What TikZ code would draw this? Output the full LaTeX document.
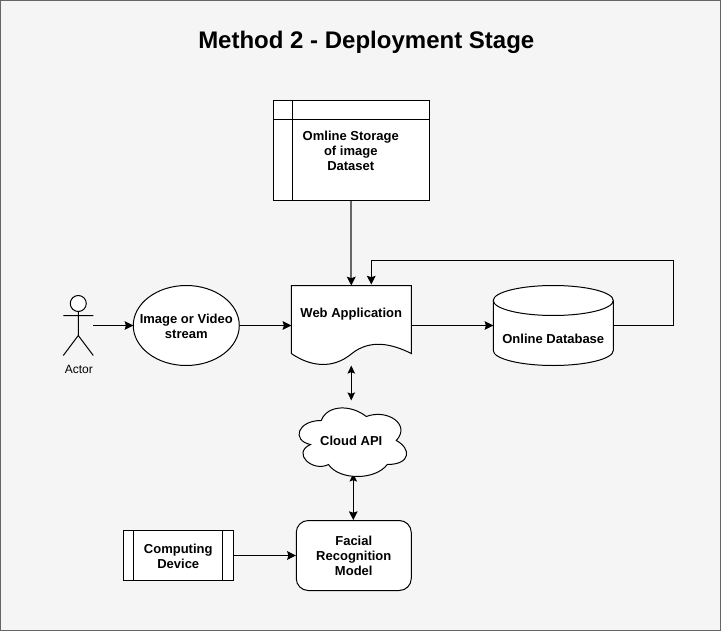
\documentclass[tikz,border=0pt]{standalone}
\usepackage{fontspec}
\setmainfont{Liberation Sans}
\usetikzlibrary{arrows.meta,calc}
\definecolor{bgc}{HTML}{F5F5F5}
\definecolor{framec}{HTML}{666666}
\tikzset{
  px/.style={x=0.75pt,y=-0.75pt},
  shapeline/.style={draw=black,fill=white,line width=0.75pt},
  boxtext/.style={inner sep=0pt,align=center,font=\fontsize{9.75pt}{11.25pt}\selectfont\bfseries},
  holder/.style={inner sep=0pt,outer sep=0pt,draw=none},
  flow/.style={draw=black,line width=0.75pt,-{Stealth[length=6.5pt,width=6.5pt,inset=1pt]}},
  flowgray/.style={draw=framec,line width=1.3pt,-{Stealth[length=6.5pt,width=6.5pt,inset=1pt,color=black,fill=black]}},
  both/.style={draw=black,line width=0.75pt,{Stealth[length=6pt,width=5.5pt,inset=1pt]}-{Stealth[length=6.5pt,width=6.5pt,inset=1pt]}},
  bothheavy/.style={draw=black,line width=1.1pt,{Stealth[length=6pt,width=5.5pt,inset=1pt]}-{Stealth[length=6pt,width=5.5pt,inset=1pt]}},
}
\begin{document}
\begin{tikzpicture}[px]
\useasboundingbox (0,0) rectangle (721,631);
\draw[draw=framec,fill=bgc,line width=1pt] (0.6,0.6) rectangle (720.4,630.4);
\begin{scope}[yshift=-0.375pt,xshift=0.2pt]
\node[holder,font=\fontsize{18pt}{20pt}\selectfont\bfseries] (title) at (366,41.5) {Method 2 - Deployment Stage};

% internal storage
\node[shapeline,minimum width=117pt,minimum height=75pt,inner sep=0pt] (storage) at (351,150) {};
\draw[line width=0.75pt] (storage.north west) ++(19.5,0) coordinate (stv) -- (stv |- storage.south);
\draw[line width=0.75pt] (storage.north west) ++(0,20) coordinate (sth) -- (sth -| storage.east);
\node[boxtext] (storagetext) at (350.5,150) {Omline Storage\\of image\\Dataset};

% actor
\node[holder,circle,minimum size=12pt,shapeline] (head) at (78,303) {};
\coordinate (neck) at (78,311);
\coordinate (hip) at (78,335);
\coordinate (armL) at (63,315);
\coordinate (armR) at (93,315);
\coordinate (footL) at (63,355);
\coordinate (footR) at (93,355);
\draw[line width=0.75pt] (neck) -- (hip) (armL) -- (armR) (footL) -- (hip) -- (footR);
\node[holder,font=\fontsize{9pt}{11pt}\selectfont] (actorlabel) at (78.5,369) {Actor};
\coordinate (actorout) at (93,325);

% image ellipse
\draw[shapeline] (186,325) ellipse (53 and 40);
\node[holder,minimum width=79.5pt,minimum height=60pt] (stream) at (186,325) {};
\node[boxtext] (streamtext) at (186,326) {Image or Video\\stream};

% web application (document)
\node[holder,minimum width=90pt,minimum height=60pt] (web) at (351,325) {};
\draw[shapeline] (291,285) -- (411,285) -- (411,353)
  .. controls (392,343.5) and (370,338) .. (351,353.5)
  .. controls (332,369) and (310,366) .. (291,353) -- cycle;
\node[boxtext] (webtext) at (351,314) {Web Application};

% database
\node[holder,minimum width=90pt,minimum height=60pt] (db) at (553,325) {};
\draw[shapeline] (493,300) -- (493,350) arc[start angle=180,end angle=0,x radius=60,y radius=15] -- (613,300);
\draw[shapeline] (553,300) ellipse (60 and 15);
\node[boxtext] (dbtext) at (553,338) {Online Database};

% computing device
\node[shapeline,minimum width=82.5pt,minimum height=37.5pt,inner sep=0pt] (device) at (178,555) {};
\draw[line width=0.75pt] (device.north west) ++(11,0) coordinate (dvl) -- (dvl |- device.south);
\draw[line width=0.75pt] (device.north east) ++(-11,0) coordinate (dvr) -- (dvr |- device.south);
\node[boxtext] (devicetext) at (178,556) {Computing\\Device};

% model
\node[shapeline,rounded corners=9pt,minimum width=86.25pt,minimum height=52.5pt,inner sep=0pt] (model) at (353.5,555) {};
\node[boxtext] (modeltext) at (353.5,555) {Facial\\Recognition\\Model};

% connector whose upper head lies behind the cloud
\coordinate (cloudbase) at (353,473);
\draw[both] (cloudbase) -- (cloudbase |- model.north);

% cloud
\node[holder,minimum width=90pt,minimum height=60pt] (cloud) at (351,440) {};
\draw[shapeline] (321,420)
  .. controls (297,420) and (291,440) .. (310.2,444)
  .. controls (291,452.8) and (312.6,472) .. (328.2,464)
  .. controls (339,480) and (375,480) .. (387,464)
  .. controls (411,464) and (411,448) .. (396,440)
  .. controls (411,424) and (387,408) .. (366,416)
  .. controls (351,404) and (327,404) .. (321,420) -- cycle;
\node[boxtext] (cloudtext) at (351,440) {Cloud API};

% connectors
\draw[flow] (actorout) -- (stream.west);
\draw[flow] (stream.east) -- (web.west);
\draw[flow] (web.east) -- (db.west);
\draw[flowgray] (storage.south) -- (storage.south |- web.north);
\draw[flow] (db.east) -- (673,325) -- (673,260) -- (371,260) -- (371,284);
\draw[bothheavy] (351,365) -- (cloud.north);
\draw[flow] (device.east) -- (device.east -| model.west);
\end{scope}
\end{tikzpicture}
\end{document}
